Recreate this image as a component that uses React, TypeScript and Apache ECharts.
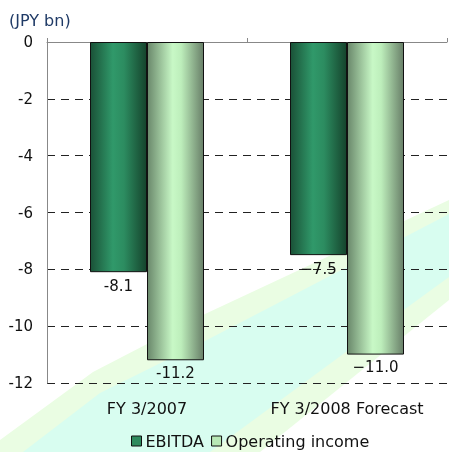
import React, { useEffect, useRef } from "react";
import * as echarts from "echarts";

const categories = ["FY 3/2007", "FY 3/2008 Forecast"];
const ebitda = [-8.1, -7.5];
const operatingIncome = [-11.2, -11.0];
const ebitdaLabels = ["-8.1", "\u22127.5"];
const oiLabels = ["-11.2", "\u221211.0"];
const yTicks = { min: -12, max: 0, interval: 2 };

const FONT = "DejaVu Sans";

function bandPoly(pts: number[][]) {
  return [...pts, [449, 452], [0, 452]];
}

export default function App() {
  const ref = useRef<HTMLDivElement>(null);
  useEffect(() => {
    if (!ref.current) return;
    const chart = echarts.init(ref.current, null, { renderer: "svg" });
    const e1 = [[0, 440], [93, 372], [205, 314], [449, 200]];
    const e2 = [[23, 452], [100, 393], [205, 341], [449, 214]];
    const e3 = [[210, 452], [350, 349], [449, 277]];
    const e4 = [[260, 452], [449, 300]];
    const ebitdaGrad = new echarts.graphic.LinearGradient(0, 0, 1, 0, [
      { offset: 0, color: "#1a5237" },
      { offset: 0.4, color: "#30996a" },
      { offset: 0.6, color: "#2c8c60" },
      { offset: 1, color: "#15432c" },
    ]);
    const oiGrad = new echarts.graphic.LinearGradient(0, 0, 1, 0, [
      { offset: 0, color: "#6a886b" },
      { offset: 0.45, color: "#c8f8c6" },
      { offset: 0.6, color: "#bdeebb" },
      { offset: 1, color: "#687f68" },
    ]);
    chart.setOption({
      animation: false,
      textStyle: { fontFamily: FONT },
      graphic: [
        { type: "polygon", z: -10, silent: true, shape: { points: bandPoly(e1) }, style: { fill: "#eafde3" } },
        { type: "polygon", z: -9, silent: true, shape: { points: bandPoly(e2) }, style: { fill: "#d8fdf0" } },
        { type: "polygon", z: -8, silent: true, shape: { points: bandPoly(e3) }, style: { fill: "#eafde3" } },
        { type: "polygon", z: -7, silent: true, shape: { points: bandPoly(e4) }, style: { fill: "#ffffff" } },
        {
          type: "text",
          left: 9,
          top: 12,
          z: 10,
          style: { text: "(JPY bn)", fontFamily: FONT, fontSize: 16, fill: "#1f3a66" },
        },
      ],
      grid: { left: 47, right: 2, top: 42, bottom: 69, containLabel: false },
      legend: {
        bottom: -2,
        left: 126,
        itemWidth: 10,
        itemHeight: 10,
        itemGap: 7,
        textStyle: { fontFamily: FONT, fontSize: 16, color: "#111", padding: [0, 0, 0, -1] },
        data: [
          { name: "EBITDA", icon: "rect", itemStyle: { color: "#2e8b5e", borderColor: "#111", borderWidth: 1 } },
          { name: "Operating income", icon: "rect", itemStyle: { color: "#b7e8b5", borderColor: "#111", borderWidth: 1 } },
        ],
      },
      xAxis: [
        {
          type: "category",
          data: categories,
          position: "top",
          axisLine: { onZero: false, lineStyle: { color: "#888", width: 1 } },
          axisTick: { show: true, length: 4, inside: false, lineStyle: { color: "#888" } },
          axisLabel: { show: false },
          splitLine: { show: false },
        },
        {
          type: "category",
          data: categories,
          position: "bottom",
          axisLine: { show: false, onZero: false },
          axisTick: { show: false },
          axisLabel: { fontFamily: FONT, fontSize: 16, color: "#111", margin: 17 },
        },
      ],
      yAxis: {
        type: "value",
        min: yTicks.min,
        max: yTicks.max,
        interval: yTicks.interval,
        axisLine: { show: true, lineStyle: { color: "#888" } },
        axisTick: { show: false },
        axisLabel: { fontFamily: FONT, fontSize: 15, color: "#111", margin: 14 },
        splitLine: { show: true, lineStyle: { color: "#222", type: [8, 6], width: 1 } },
      },
      series: [
        {
          name: "EBITDA",
          type: "bar",
          xAxisIndex: 0,
          data: ebitda,
          barWidth: 57,
          barGap: "0%",
          itemStyle: { color: ebitdaGrad, borderColor: "#111", borderWidth: 1 },
          label: {
            show: true,
            position: "bottom",
            distance: 6,
            fontFamily: FONT,
            fontSize: 15,
            color: "#111",
            formatter: (p: any) => ebitdaLabels[p.dataIndex],
          },
        },
        {
          name: "Operating income",
          type: "bar",
          xAxisIndex: 0,
          data: operatingIncome,
          barWidth: 57,
          barGap: "0%",
          itemStyle: { color: oiGrad, borderColor: "#111", borderWidth: 1 },
          label: {
            show: true,
            position: "bottom",
            distance: 5,
            fontFamily: FONT,
            fontSize: 15,
            color: "#111",
            formatter: (p: any) => oiLabels[p.dataIndex],
          },
        },
      ],
    });
    return () => chart.dispose();
  }, []);
  return <div ref={ref} style={{ width: 449, height: 452, position: "fixed", left: 0, top: 0 }} />;
}
